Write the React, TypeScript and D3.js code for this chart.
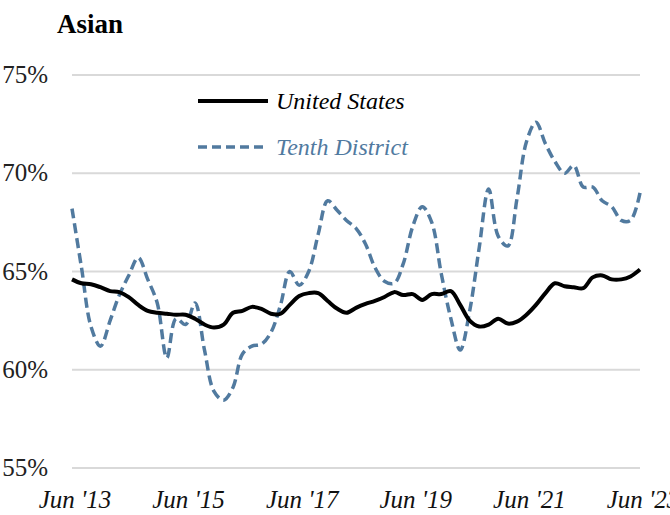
import React from 'react';
import * as d3 from 'd3';

// bimonthly readings, Jun 2013 -> Jun 2023
const months = d3.range(61).map((i) => new Date(2013, 5 + i * 2, 1));

const unitedStates = [
  64.6, 64.4, 64.35, 64.2, 64.0, 63.95, 63.7, 63.3, 63.0, 62.9, 62.85, 62.8, 62.8, 62.6, 62.3, 62.15,
  62.3, 62.9, 63.0, 63.2, 63.1, 62.85, 62.85, 63.3, 63.75, 63.9, 63.9, 63.5, 63.1, 62.9, 63.15, 63.35,
  63.5, 63.7, 63.95, 63.8, 63.85, 63.55, 63.85, 63.85, 64.0, 63.3, 62.5, 62.2, 62.3, 62.6, 62.35, 62.45,
  62.8, 63.3, 63.9, 64.4, 64.25, 64.2, 64.15, 64.7, 64.8, 64.6, 64.6, 64.75, 65.1,
];

const tenthDistrict = [
  68.2, 65.2, 62.2, 61.2, 62.5, 63.8, 64.8, 65.7, 64.6, 63.4, 60.6, 62.6, 62.3, 63.4, 61.0, 58.9,
  58.45, 59.1, 60.8, 61.2, 61.3, 61.9, 63.3, 65.0, 64.3, 65.0, 66.9, 68.6, 68.1, 67.6, 67.2, 66.4,
  65.2, 64.5, 64.4, 65.4, 67.3, 68.3, 67.5, 64.9, 62.6, 61.0, 63.0, 66.2, 69.2, 66.8, 66.3, 68.7,
  71.6, 72.6, 71.5, 70.6, 70.0, 70.4, 69.3, 69.3, 68.6, 68.3, 67.6, 67.6, 69.0,
];

const yTicks = [55, 60, 65, 70, 75];
const xTicks = [2013, 2015, 2017, 2019, 2021, 2023];

const blue = '#517a9f';
const serifFam = `'Liberation Serif'`;
const css = `svg text { font-family: 'Liberation Serif', 'Tinos', 'Times New Roman', Times, 'FreeSerif' !important; }`;

export default function App() {
  const W = 670;
  const H = 515;
  const margin = { left: 72, right: 30, top: 75, bottom: 47 };

  const x = d3
    .scaleTime()
    .domain([new Date(2013, 5, 1), new Date(2023, 5, 1)])
    .range([margin.left, W - margin.right]);

  const y = d3.scaleLinear().domain([55, 75]).range([H - margin.bottom, margin.top]);

  const line = d3
    .line<number>()
    .x((_, i) => x(months[i]))
    .y((d) => y(d))
    .curve(d3.curveCatmullRom);

  return (
    <svg width={W} height={H} style={{ position: 'absolute', left: 0, top: 0, background: '#fff', fontFamily: serifFam }}>
      <style>{css}</style>
      <text x={57} y={33} fontSize={27} fontWeight="bold" style={{ fontFamily: serifFam }}>
        Asian
      </text>

      {/* gridlines + y labels */}
      {yTicks.map((t) => (
        <g key={t}>
          <line x1={margin.left} x2={W - margin.right} y1={y(t)} y2={y(t)} stroke="#d9d9d9" strokeWidth={2} />
          <text x={48} y={y(t) + 8} textAnchor="end" fontSize={25} fill="#222" style={{ fontFamily: serifFam }}>
            {t}%
          </text>
        </g>
      ))}

      {/* x labels */}
      {xTicks.map((yr) => (
        <text
          key={yr}
          x={x(new Date(yr, 5, 1)) + 3}
          y={508}
          textAnchor="middle"
          fontSize={25}
          fontStyle="italic"
          fill="#111"
          style={{ fontFamily: serifFam }}
        >
          {`Jun '${String(yr).slice(2)}`}
        </text>
      ))}

      <path d={line(tenthDistrict) ?? ''} fill="none" stroke={blue} strokeWidth={3.5} strokeDasharray="10,5" />
      <path d={line(unitedStates) ?? ''} fill="none" stroke="#000" strokeWidth={4} strokeLinejoin="round" />

      {/* legend */}
      <line x1={198} x2={268} y1={101} y2={101} stroke="#000" strokeWidth={4} />
      <text x={276} y={109} fontSize={24} fontStyle="italic" fill="#000" style={{ fontFamily: serifFam }}>
        United States
      </text>
      <line x1={198} x2={268} y1={147} y2={147} stroke={blue} strokeWidth={3.5} strokeDasharray="9,5" />
      <text x={276} y={155} fontSize={24} fontStyle="italic" fill={blue} style={{ fontFamily: serifFam }}>
        Tenth District
      </text>
    </svg>
  );
}
